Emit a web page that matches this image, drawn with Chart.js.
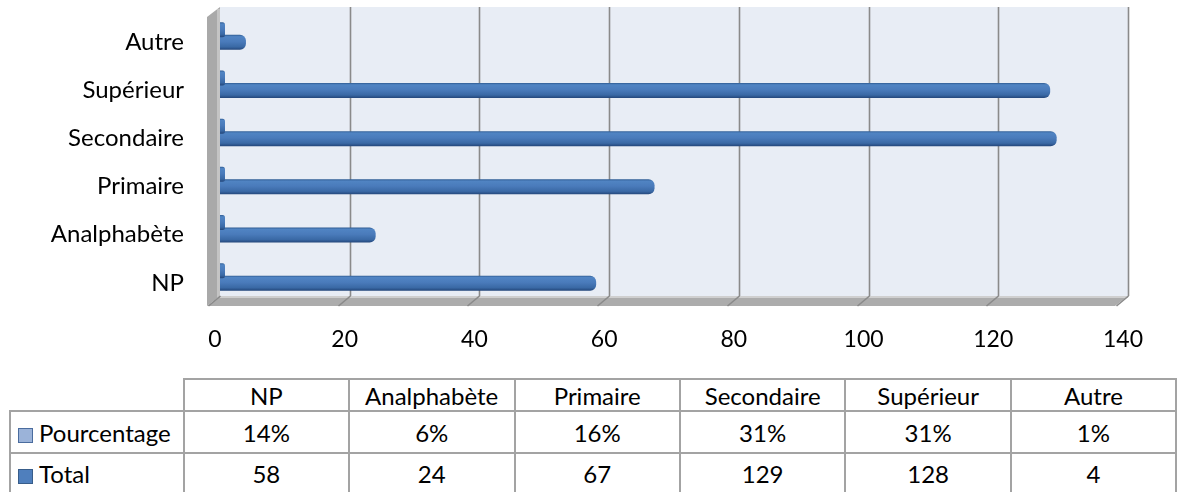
<!DOCTYPE html>
<html>
<head>
<meta charset="utf-8">
<script src="https://cdn.jsdelivr.net/npm/chart.js@4/dist/chart.umd.min.js"></script>
<style>
  html, body { margin:0; padding:0; background:#fff; width:1177px; height:492px; overflow:hidden; }
  #wrap { position:absolute; left:0; top:0; width:1177px; height:372px; }
  #tbl { position:absolute; left:9px; top:378px; border-collapse:collapse; table-layout:fixed;
         font-family:Lato, "Open Sans", sans-serif; font-size:24px; color:#000; }
  #tbl td { border:2px solid #a3a3a3; text-align:center; padding:0; white-space:nowrap; overflow:hidden; }
  #tbl td.first { text-align:left; padding-left:7px; }
  #tbl td.blank { border-top:none; border-left:none; }
  .sw { display:inline-block; width:15px; height:15px; margin-right:6px; vertical-align:-1px; box-sizing:border-box; }
</style>
</head>
<body>
<div id="wrap"><canvas id="c"></canvas></div>
<table id="tbl"></table>
<script>
// ---- data ----
const categories = ['NP', 'Analphabète', 'Primaire', 'Secondaire', 'Supérieur', 'Autre'];
const pourcentage = [0.14, 0.06, 0.16, 0.31, 0.31, 0.01];
const total = [58, 24, 67, 129, 128, 4];
const seriesNames = ['Pourcentage', 'Total'];
const xMin = 0, xMax = 140, xStep = 20;

const CAT_PCT = 0.52, BAR_PCT = 1.2;
const FONT = 'Lato, "Open Sans", sans-serif';

function barGradient(ctx) {
  const chart = ctx.chart;
  const y = chart.scales && chart.scales.y;
  const fallback = '#4a7cbc';
  if (!y || ctx.type !== 'data') return fallback;
  const c = y.getPixelForValue(ctx.dataIndex);
  const cat = Math.abs(y.getPixelForValue(1) - y.getPixelForValue(0));
  if (!isFinite(c) || !isFinite(cat) || cat === 0) return fallback;
  const n = chart.data.datasets.length;
  const chunk = cat * CAT_PCT / n;
  const start = c - cat * CAT_PCT / 2;
  const center = start + chunk * ctx.datasetIndex + chunk / 2;
  const size = chunk * BAR_PCT;
  const g = chart.ctx.createLinearGradient(0, center - size / 2, 0, center + size / 2);
  g.addColorStop(0, '#2f5c93');
  g.addColorStop(0.12, '#5084c3');
  g.addColorStop(0.45, '#4a7bbb');
  g.addColorStop(0.8, '#3a69a5');
  g.addColorStop(1, '#23467a');
  return g;
}

const wallPlugin = {
  id: 'wall3d',
  beforeDatasetsDraw(chart) {
    const { ctx, chartArea: a, scales: { x } } = chart;
    const top = a.top - 5, bottom = a.bottom - 5;
    const left = x.getPixelForValue(xMin), right = x.getPixelForValue(xMax);
    const dx = 13, dy = 10;
    ctx.save();
    // back wall
    ctx.fillStyle = '#e8edf5';
    ctx.fillRect(left, top, right - left, bottom - top);
    // left side wall
    ctx.beginPath();
    ctx.moveTo(left, top);
    ctx.lineTo(left, bottom);
    ctx.lineTo(left - dx, bottom + dy);
    ctx.lineTo(left - dx, top + dy);
    ctx.closePath();
    ctx.fillStyle = '#a9a9a9';
    ctx.fill();
    ctx.fillStyle = '#c4c4c4';
    ctx.fillRect(left - 3, top + 2, 3, bottom - top);
    // floor
    ctx.beginPath();
    ctx.moveTo(left, bottom);
    ctx.lineTo(right, bottom);
    ctx.lineTo(right - dx, bottom + dy);
    ctx.lineTo(left - dx, bottom + dy);
    ctx.closePath();
    ctx.fillStyle = '#acacac';
    ctx.fill();
    ctx.fillStyle = '#cfcfcf';
    ctx.fillRect(left, bottom, right - left, 2);
    // grid lines
    ctx.strokeStyle = '#8a8a8a';
    ctx.lineWidth = 1.6;
    x.ticks.forEach(t => {
      const px = Math.round(x.getPixelForValue(t.value)) + 0.5;
      ctx.beginPath();
      if (t.value !== xMin) {
        ctx.moveTo(px, top);
        ctx.lineTo(px, bottom);
      }
      ctx.moveTo(px, bottom);
      ctx.lineTo(px - dx + 1, bottom + dy);
      ctx.stroke();
    });
    ctx.restore();
  }
};

Chart.defaults.font.family = FONT;
Chart.defaults.font.size = 23;
Chart.defaults.color = '#000';

new Chart(document.getElementById('c'), {
  type: 'bar',
  data: {
    labels: categories,
    datasets: [
      { label: seriesNames[0], data: pourcentage, backgroundColor: barGradient, minBarLength: 5,
        borderRadius: 4, borderSkipped: 'start' },
      { label: seriesNames[1], data: total, backgroundColor: barGradient,
        borderRadius: 6, borderSkipped: 'start' }
    ]
  },
  options: {
    indexAxis: 'y',
    responsive: true,
    maintainAspectRatio: false,
    animation: false,
    events: [],
    categoryPercentage: CAT_PCT,
    barPercentage: BAR_PCT,
    layout: { padding: { top: 12, right: 49, left: 0, bottom: 0 } },
    plugins: { legend: { display: false }, tooltip: { enabled: false } },
    scales: {
      x: {
        min: xMin, max: xMax,
        ticks: { stepSize: xStep, padding: 25, labelOffset: -5, font: { size: 23 } },
        grid: { display: false, drawTicks: false },
        border: { display: false },
        afterFit(s) { s.height = 71; }
      },
      y: {
        reverse: true,
        ticks: { padding: 36, labelOffset: 6, font: { size: 24 } },
        grid: { display: false, drawTicks: false },
        border: { display: false },
        afterFit(s) { s.width = 220; s.paddingTop = 0; s.paddingBottom = 0; }
      }
    }
  },
  plugins: [wallPlugin]
});

// ---- data table ----
const tbl = document.getElementById('tbl');
const colW = [174, 166, 166, 166, 166, 166, 166];
const cg = document.createElement('colgroup');
colW.forEach(w => { const c = document.createElement('col'); c.style.width = w + 'px'; cg.appendChild(c); });
tbl.appendChild(cg);
function addRow(h, cells) {
  const tr = document.createElement('tr');
  tr.style.height = h + 'px';
  cells.forEach(c => tr.appendChild(c));
  tbl.appendChild(tr);
}
function td(html, cls) { const d = document.createElement('td'); d.innerHTML = html; if (cls) d.className = cls; return d; }
addRow(32, [td('', 'blank')].concat(categories.map(c => td(c))));
addRow(42, [td('<span class="sw" style="background:#9bb3d9;border:1px solid #4a6c9e"></span>' + seriesNames[0], 'first')]
  .concat(pourcentage.map(v => td(Math.round(v * 100) + '%'))));
addRow(40, [td('<span class="sw" style="background:#4f7fbd;border:1px solid #385d8a"></span>' + seriesNames[1], 'first')]
  .concat(total.map(v => td(String(v)))));
</script>
</body>
</html>
